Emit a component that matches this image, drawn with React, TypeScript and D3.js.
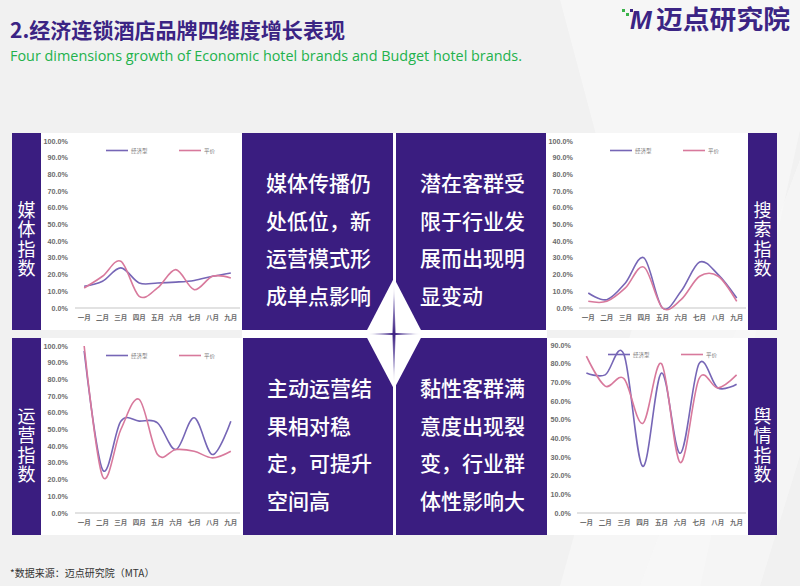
import * as d3 from 'd3';
import React from 'react';

const months = ['一月', '二月', '三月', '四月', '五月', '六月', '七月', '八月', '九月'];
const seriesNames = ['经济型', '平价'];

// 媒体指数
const mediaEconomic = [13, 16, 24, 15, 15, 15.5, 16.5, 19, 21];
const mediaBudget = [12, 19, 28, 7, 12, 23, 11, 19, 18];
// 搜索指数
const searchEconomic = [9, 5, 15, 30, 0, 10, 27.5, 20, 6];
const searchBudget = [4, 4, 12, 24.5, 0, 5, 19, 19, 4];
// 运营指数
const operEconomic = [97, 26, 55, 55, 54, 38, 57, 35, 55];
const operBudget = [100, 22, 50, 68, 35, 38, 37, 33, 37];
// 舆情指数
const opinionEconomic = [75, 74, 85, 25, 75, 32, 80, 67, 69];
const opinionBudget = [84, 68, 72, 48, 80, 27, 72, 67, 74];

const boxTexts = [
  ['媒体传播仍', '处低位，新', '运营模式形', '成单点影响'],
  ['潜在客群受', '限于行业发', '展而出现明', '显变动'],
  ['主动运营结', '果相对稳', '定，可提升', '空间高'],
  ['黏性客群满', '意度出现裂', '变，行业群', '体性影响大'],
];

const PURPLE_DARK = '#3a1d80';
const ECO_COLOR = '#7666b6';
const BUD_COLOR = '#d8799c';
const CJK = '"Noto Sans CJK SC", sans-serif';

function LineChart({
  left,
  right,
  top,
  bottom,
  max,
  tickX,
  eco,
  bud,
}: {
  left: number;
  right: number;
  top: number;
  bottom: number;
  max: number;
  tickX: number;
  eco: number[];
  bud: number[];
}) {
  const x = d3.scalePoint<string>().domain(months).range([left, right]).padding(0.5);
  const y = d3.scaleLinear().domain([0, max]).range([bottom, top]);
  const line = d3
    .line<number>()
    .x((_, i) => x(months[i]) ?? 0)
    .y(d => y(d))
    .curve(d3.curveCatmullRom.alpha(0));
  const ticks = d3.range(0, max + 1, 10);

  return (
    <g>
      {ticks.map(t => (
        <text
          key={t}
          x={tickX}
          y={y(t) + 2.5}
          textAnchor="end"
          fontSize={7.2}
          fontFamily='"Liberation Sans", sans-serif'
          fontWeight="bold"
          fill="#6b6b6b"
        >
          {t.toFixed(1)}%
        </text>
      ))}
      <line x1={left} x2={right} y1={bottom} y2={bottom} stroke="#d9d9d9" strokeWidth={1.5} />
      {months.map(m => (
        <text
          key={m}
          x={x(m)}
          y={bottom + 12}
          textAnchor="middle"
          fontSize={6.5}
          fontFamily={CJK}
          fontWeight="bold"
          fill="#6b6b6b"
        >
          {m}
        </text>
      ))}
      <path d={line(eco) ?? ''} fill="none" stroke={ECO_COLOR} strokeWidth={1.6} />
      <path d={line(bud) ?? ''} fill="none" stroke={BUD_COLOR} strokeWidth={1.6} />
      {seriesNames.map((name, i) => {
        const lx = left + 31 + i * 73;
        const ly = top + 9.5;
        return (
          <g key={name}>
            <line x1={lx} x2={lx + 22} y1={ly} y2={ly} stroke={i === 0 ? ECO_COLOR : BUD_COLOR} strokeWidth={1.6} />
            <text x={lx + 25} y={ly + 2} fontSize={5.5} fontFamily={CJK} fill="#777">
              {name}
            </text>
          </g>
        );
      })}
    </g>
  );
}

function VerticalLabel({ cx, cy, text }: { cx: number; cy: number; text: string }) {
  return (
    <text
      x={cx}
      y={cy}
      textAnchor="middle"
      fontSize={18}
      fontFamily={CJK}
      fill="#fff"
      letterSpacing={1.5}
      style={{ writingMode: 'vertical-rl' }}
    >
      {text}
    </text>
  );
}

function TextBox({ x, y, w, h, lines }: { x: number; y: number; w: number; h: number; lines: string[] }) {
  return (
    <g>
      <rect x={x} y={y} width={w} height={h} fill={PURPLE_DARK} />
      {lines.map((l, i) => (
        <text
          key={i}
          x={x + 24}
          y={y + 49 + i * 37.5}
          dominantBaseline="central"
          fontSize={21}
          fontFamily={CJK}
          fontWeight={500}
          fill="#fff"
        >
          {l}
        </text>
      ))}
    </g>
  );
}

export default function App() {
  return (
    <svg
      width={800}
      height={586}
      style={{ position: 'absolute', left: 0, top: 0, display: 'block' }}
    >
      <defs>
        <radialGradient id="star" cx="50%" cy="50%" r="50%">
          <stop offset="0%" stopColor={PURPLE_DARK} />
          <stop offset="60%" stopColor="#6a58a8" stopOpacity={0.6} />
          <stop offset="100%" stopColor="#fff" stopOpacity={0} />
        </radialGradient>
      </defs>
      <rect width={800} height={586} fill="#f1f1f1" />
      <polygon points="560,0 800,0 800,130 700,586 560,586 640,300" fill="#f6f6f6" />
      <polygon points="860,0 940,0 760,586 640,586" fill="#f8f8f8" opacity={0.6} />

      {/* header */}
      <text x={10} y={38} fontSize={21} fontWeight="bold" fontFamily={CJK} fill="#3b2484" textLength={335} lengthAdjust="spacingAndGlyphs">
        2.经济连锁酒店品牌四维度增长表现
      </text>
      <text x={10} y={61} fontSize={14} fontFamily='"Open Sans", sans-serif' fill="#22b24c" textLength={512} lengthAdjust="spacingAndGlyphs">
        Four dimensions growth of Economic hotel brands and Budget hotel brands.
      </text>
      <g>
        <rect x={622} y={9} width={3} height={3} fill="#3bb34a" />
        <rect x={626} y={13} width={3} height={3} fill="#3bb34a" />
        <rect x={630} y={9} width={3} height={3} fill="#3b2484" />
        <text x={630} y={29} fontSize={26} fontWeight="bold" fontStyle="italic" fontFamily='"Liberation Sans", sans-serif' fill="#3b2484">
          M
        </text>
        <text x={656} y={29} fontSize={26} fontWeight="bold" fontFamily={CJK} fill="#3b2484" textLength={134} lengthAdjust="spacingAndGlyphs">
          迈点研究院
        </text>
      </g>

      {/* chart backgrounds */}
      <rect x={41} y={133} width={201} height={197} fill="#fff" />
      <rect x={546} y={133} width={202} height={197} fill="#fff" />
      <rect x={41} y={338} width={202} height={197} fill="#fff" />
      <rect x={547} y={338} width={201} height={197} fill="#fff" />

      {/* side labels */}
      <rect x={12} y={133} width={29} height={197} fill={PURPLE_DARK} />
      <rect x={748} y={133} width={29} height={197} fill={PURPLE_DARK} />
      <rect x={12} y={338} width={29} height={197} fill={PURPLE_DARK} />
      <rect x={748} y={338} width={29} height={197} fill={PURPLE_DARK} />
      <VerticalLabel cx={26.5} cy={240} text="媒体指数" />
      <VerticalLabel cx={762.5} cy={240} text="搜索指数" />
      <VerticalLabel cx={26.5} cy={446} text="运营指数" />
      <VerticalLabel cx={762.5} cy={446} text="舆情指数" />

      <LineChart left={75} right={240} top={141} bottom={308} max={100} tickX={68} eco={mediaEconomic} bud={mediaBudget} />
      <LineChart left={579} right={746} top={141} bottom={308} max={100} tickX={573} eco={searchEconomic} bud={searchBudget} />
      <LineChart left={75} right={240} top={346} bottom={513} max={100} tickX={68} eco={operEconomic} bud={operBudget} />
      <LineChart left={577} right={746} top={345} bottom={513} max={90} tickX={571} eco={opinionEconomic} bud={opinionBudget} />

      {/* centre text boxes */}
      <TextBox x={242} y={133} w={151} h={197} lines={boxTexts[0]} />
      <TextBox x={396} y={133} w={150} h={197} lines={boxTexts[1]} />
      <TextBox x={243} y={338} w={150} h={197} lines={boxTexts[2]} />
      <TextBox x={396} y={338} w={151} h={197} lines={boxTexts[3]} />
      <rect x={393} y={133} width={3} height={402} fill="#fff" />
      <rect x={242} y={330} width={305} height={8} fill="#fff" />
      <polygon points="394,278 423,334 394,389 365,334" fill="#fff" />
      <path
        d="M365,334 L392.5,333 L394,280 L395.5,333 L423,334 L395.5,335 L394,388 L392.5,335 Z"
        fill="url(#star)"
      />

      <text x={10} y={577} fontSize={10} fontFamily={CJK} fill="#333">
        *数据来源：迈点研究院（MTA）
      </text>
    </svg>
  );
}
